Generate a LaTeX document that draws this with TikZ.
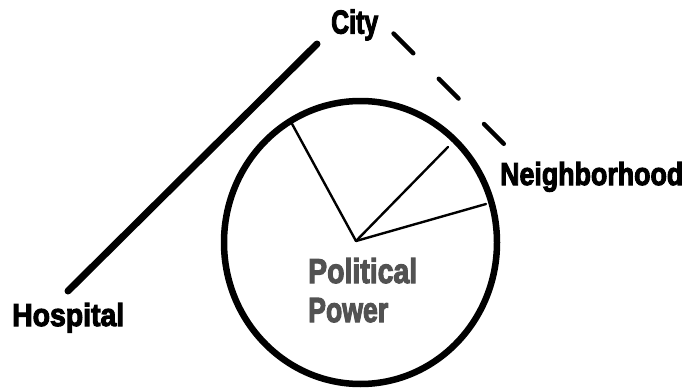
\documentclass[tikz,border=0pt]{standalone}
\usepackage{fontspec}
\usepackage{graphicx}
\setmainfont{Liberation Sans}
\newfontfamily\heavy{Liberation Sans}[FakeBold=3.5]
% label text squeezed into a box of given width and cap height
\newcommand{\fitlabel}[3]{\resizebox{#1}{#2}{\heavy\bfseries #3}}
\begin{document}
\begin{tikzpicture}[x=1pt,y=-1pt,
  label/.style={inner sep=0pt,anchor=base west,text=black},
  powerlabel/.style={label,text=black!68},
  rim/.style={line width=6.5pt},
  spoke/.style={line width=2.4pt,line cap=round},
  solidlink/.style={line width=7pt,line cap=round},
  dashlink/.style={line width=4.4pt,line cap=round,dash pattern=on 28pt off 36pt}]
\useasboundingbox (0,0) rectangle (689,388);

% labels
\node[label] (city) at (331,33.5) {\fitlabel{47pt}{24pt}{City}};
\node[label] (hospital) at (12,326) {\fitlabel{112pt}{23pt}{Hospital}};
\node[label] (neighborhood) at (500,185) {\fitlabel{183pt}{23pt}{Neighborhood}};
\node[powerlabel] (political) at (308,283) {\fitlabel{109pt}{25pt}{Political}};
\node[powerlabel] (power) at (308,322) {\fitlabel{80pt}{24pt}{Power}};

% the pie
\coordinate (centre) at (360.5,242.5);
\coordinate (hub) at (356,241);
\coordinate (rimA) at (291,122);
\coordinate (rimB) at (448,147);
\coordinate (rimC) at (486,204);
\draw[rim] (centre) ellipse [x radius=136.5, y radius=141.5];
\draw[spoke] (hub) -- (rimA);
\draw[spoke] (hub) -- (rimB);
\draw[spoke] (hub) -- (rimC);

% links between the labels
\coordinate (hospitalEnd) at (68,291);
\coordinate (cityLeft) at (317,44);
\coordinate (cityRight) at (393.5,33.5);
\coordinate (neighborhoodEnd) at (505,145);
\draw[solidlink] (hospitalEnd) -- (cityLeft);
\draw[dashlink] (cityRight) -- (neighborhoodEnd);
\end{tikzpicture}
\end{document}
